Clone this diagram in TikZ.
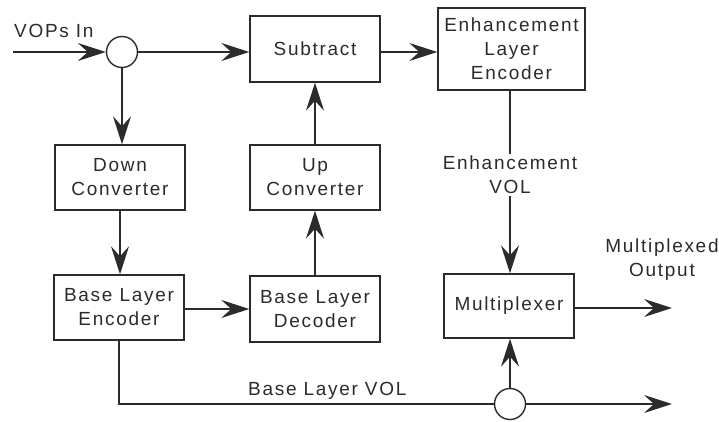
\documentclass[tikz,border=0pt]{standalone}
\usepackage{fontspec}
\setmainfont{Liberation Sans}[LetterSpace=9]
\usetikzlibrary{arrows.meta}
\definecolor{ink}{HTML}{2B2B2B}
\begin{document}
\begin{tikzpicture}[x=1pt,y=-1pt,
  every node/.style={font=\fontsize{19}{24}\selectfont, text=ink},
  blk/.style={draw=ink, line width=1.4pt, rectangle, align=center, inner sep=0pt},
  junction/.style={draw=ink, line width=1.4pt, circle, minimum size=31pt, inner sep=0pt},
  lbl/.style={align=center, inner sep=2pt},
  wire/.style={draw=ink, line width=1.4pt},
  flow/.style={wire, -{Stealth[length=28pt, width=18pt, inset=10pt]}}]
\useasboundingbox (0,0) rectangle (719,422);

% blocks
\node[blk, minimum width=130pt, minimum height=66pt] (sub) at (315,49) {Subtract};
\node[blk, minimum width=147pt, minimum height=82pt] (ele) at (511.5,49) {Enhancement\\Layer\\Encoder};
\node[blk, minimum width=130pt, minimum height=65pt] (down) at (120,177.5) {Down\\Converter};
\node[blk, minimum width=130pt, minimum height=65pt] (up) at (315,177.5) {Up\\Converter};
\node[blk, minimum width=130pt, minimum height=65pt] (ble) at (119,307.5) {Base Layer\\Encoder};
\node[blk, minimum width=130pt, minimum height=66pt] (bld) at (315,309) {Base Layer\\Decoder};
\node[blk, minimum width=130pt, minimum height=64pt] (mux) at (509,306) {Multiplexer};

% junctions
\node[junction] (j1) at (122,52) {};
\node[junction] (j2) at (510,404) {};

% free ends
\coordinate (vin) at (13,52);
\coordinate (mout) at (672,308);
\coordinate (bout) at (672,404);

% labels
\node[anchor=base west, inner sep=0pt] (vopsin) at (14,38) {VOPs In};
\node[lbl] (envol) at (510,175) {Enhancement\\VOL};
\node[lbl] (muxout) at (662,260) {Multiplexed\\Output};
\node[anchor=base west, inner sep=0pt] (blvol) at (248,395) {Base Layer VOL};

% connectors
\draw[flow] (vin) -- (j1.west);
\draw[flow] (j1.east) -- (j1.east -| sub.west);
\draw[flow] (j1 -| sub.east) -- (j1 -| ele.west);
\draw[flow] (j1.south) -- (j1.south |- down.north);
\draw[flow] (down.south) -- (down.south |- ble.north);
\draw[flow] (ble.east |- bld) -- (bld.west);
\draw[flow] (bld.north -| up.south) -- (up.south);
\draw[flow] (up.north) -- (up.north |- sub.south);
\draw[wire] (ele.south -| envol.north) -- (envol.north);
\draw[flow] (envol.south) -- (envol.south |- mux.north);
\draw[flow] (mux.east |- mout) -- (mout);
\draw[wire] (ble.south) -- (ble.south |- j2) -- (j2.west);
\draw[flow] (j2.east) -- (bout);
\draw[flow] (j2.north) -- (j2.north |- mux.south);
\end{tikzpicture}
\end{document}
